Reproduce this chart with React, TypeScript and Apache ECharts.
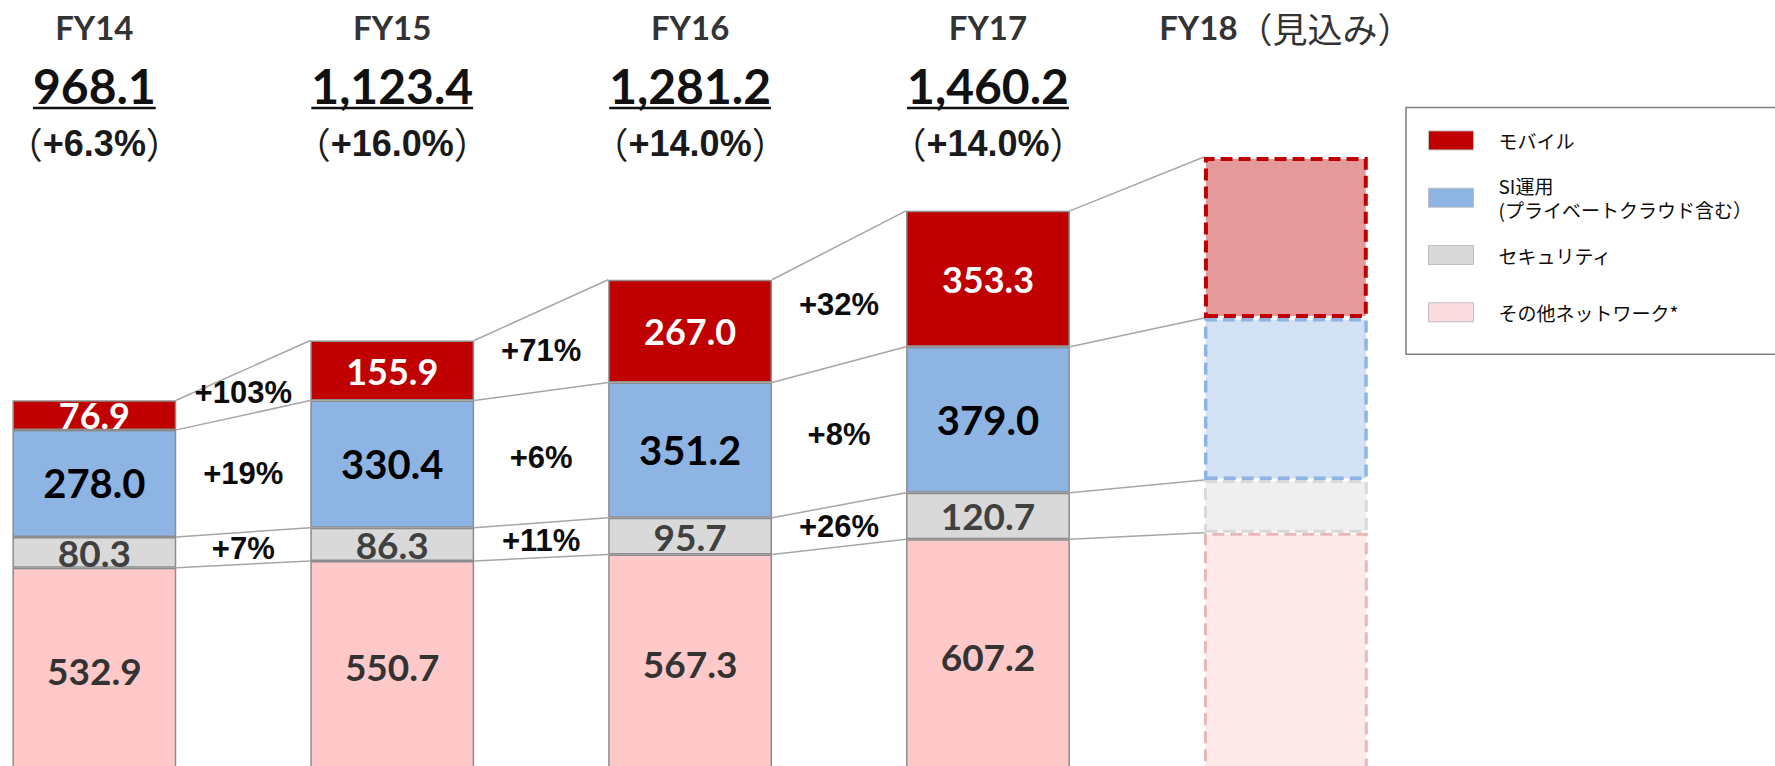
import React, { useEffect, useRef } from "react";
import * as echarts from "echarts";

// ---------------- data ----------------
const categories = ["FY14", "FY15", "FY16", "FY17", "FY18"];
const forecastCategory = "FY18";
const forecastSuffix = "（見込み）";
const totals = [968.1, 1123.4, 1281.2, 1460.2];
const totalGrowthPct = [6.3, 16.0, 14.0, 14.0];

const otherNetwork = [532.9, 550.7, 567.3, 607.2, 624];
const securityValues = [80.3, 86.3, 95.7, 120.7, 137];
const siOperations = [278.0, 330.4, 351.2, 379.0, 421];
const mobileValues = [76.9, 155.9, 267.0, 353.3, 418];

const nameOther = "その他ネットワーク*";
const nameSecurity = "セキュリティ";
const nameSI = "SI運用\n(プライベートクラウド含む）";
const nameMobile = "モバイル";

// ---------------- layout / style ----------------
const SHIFT = 60; // chart canvas starts this far left of the page
const BAR_RATIO = 0.55;
const HEADER_FY_Y = 27;
const HEADER_TOTAL_Y = 85;
const UNDERLINE_Y = 108;
const HEADER_PCT_Y = 143;
const LATO = "Lato, 'Noto Sans', sans-serif";
const ARIAL = "'Liberation Sans', Arial, sans-serif";
const CJK = "'Noto Sans CJK JP', sans-serif";

const stack = [otherNetwork, securityValues, siOperations, mobileValues];
const forecastIndex = categories.indexOf(forecastCategory);

function cumTops(i: number): number[] {
  let s = 0;
  return stack.map((arr) => (s += arr[i]));
}

let measureCtx: CanvasRenderingContext2D | null = null;
function measureText(text: string, font: string): number {
  if (!measureCtx) measureCtx = document.createElement("canvas").getContext("2d");
  if (!measureCtx) return text.length * 25;
  measureCtx.font = font;
  return measureCtx.measureText(text).width;
}

const seriesDefs = [
  {
    name: nameOther, values: otherNetwork, color: "#FFC9C9",
    fcColor: "#FDE9EA", fcBorder: "#E6B8B9", fcWidth: 3,
    label: { color: "#333333", fontSize: 37 },
  },
  {
    name: nameSecurity, values: securityValues, color: "#D9D9D9",
    fcColor: "#EFEFEF", fcBorder: "#D9D9D9", fcWidth: 3,
    label: { color: "#404040", fontSize: 37 },
  },
  {
    name: nameSI, values: siOperations, color: "#8EB4E3",
    fcColor: "#D2E1F4", fcBorder: "#8EB4E3", fcWidth: 3.5,
    label: { color: "#000000", fontSize: 40 },
  },
  {
    name: nameMobile, values: mobileValues, color: "#C00000",
    fcColor: "#E49A9A", fcBorder: "#C00000", fcWidth: 4,
    label: { color: "#FFFFFF", fontSize: 36 },
  },
];

export default function App() {
  const ref = useRef<HTMLDivElement>(null);

  useEffect(() => {
    if (!ref.current) return;
    const chart = echarts.init(ref.current, undefined, { renderer: "svg" });

    const barSeries = seriesDefs.map((d) => ({
      type: "bar",
      name: d.name,
      stack: "total",
      barWidth: `${BAR_RATIO * 100}%`,
      z: 2,
      itemStyle: { color: d.color, borderColor: "#8C8C8C", borderWidth: 1.5 },
      label: {
        show: true,
        position: "inside",
        fontFamily: LATO,
        fontWeight: "bold",
        fontSize: d.label.fontSize,
        color: d.label.color,
        formatter: (p: any) => Number(p.value).toFixed(1),
      },
      emphasis: { disabled: true },
      data: d.values.map((v, i) =>
        i === forecastIndex
          ? {
              value: v,
              itemStyle: {
                color: d.fcColor,
                borderColor: d.fcBorder,
                borderWidth: d.fcWidth,
                borderType: [12, 6],
              },
              label: { show: false },
            }
          : v
      ),
    }));

    const connectorSeries = {
      type: "custom",
      silent: true,
      z: 1,
      data: categories.slice(0, -1).map((_, i) => [i, 0]),
      renderItem: (params: any, api: any) => {
        const i = params.dataIndex;
        const band = api.size([1, 0])[0];
        const half = (band * BAR_RATIO) / 2;
        const a = cumTops(i);
        const b = cumTops(i + 1);
        const children: any[] = [];
        for (let k = 0; k < stack.length; k++) {
          const p1 = api.coord([i, a[k]]);
          const p2 = api.coord([i + 1, b[k]]);
          children.push({
            type: "line",
            shape: { x1: p1[0] + half, y1: p1[1], x2: p2[0] - half, y2: p2[1] },
            style: { stroke: "#A6A6A6", lineWidth: 1.5 },
          });
        }
        if (i + 1 !== forecastIndex) {
          const xMid = (api.coord([i, 0])[0] + api.coord([i + 1, 0])[0]) / 2;
          for (let k = 1; k < stack.length; k++) {
            const mid1 = (a[k - 1] + a[k]) / 2;
            const mid2 = (b[k - 1] + b[k]) / 2;
            const pct = Math.round((stack[k][i + 1] / stack[k][i] - 1) * 100);
            const y = api.coord([i, (mid1 + mid2) / 2])[1];
            children.push({
              type: "text",
              x: xMid,
              y,
              style: {
                text: `+${pct}%`,
                fontFamily: ARIAL,
                fontWeight: "bold",
                fontSize: 31,
                fill: "#0D0D0D",
                align: "center",
                verticalAlign: "middle",
              },
            });
          }
        }
        return { type: "group", children };
      },
    };

    const headerSeries = {
      type: "custom",
      silent: true,
      z: 3,
      data: categories.map((_, i) => [i, 0]),
      renderItem: (params: any, api: any) => {
        const i = params.dataIndex;
        const x = api.coord([i, 0])[0];
        if (i === forecastIndex) {
          return {
            type: "text",
            x,
            y: HEADER_FY_Y,
            style: {
              text: `{fy|${categories[i]}}{jp|${forecastSuffix}}`,
              align: "center",
              verticalAlign: "middle",
              rich: {
                fy: { fontFamily: LATO, fontWeight: "bold", fontSize: 33, fill: "#333333" },
                jp: { fontFamily: CJK, fontWeight: "normal", fontSize: 35, fill: "#333333" },
              },
            },
          };
        }
        const totalText = totals[i].toLocaleString("en-US", {
          minimumFractionDigits: 1,
          maximumFractionDigits: 1,
        });
        const w = measureText(totalText, `bold 48px Lato`);
        return {
          type: "group",
          children: [
            {
              type: "text",
              x,
              y: HEADER_FY_Y,
              style: {
                text: categories[i],
                fontFamily: LATO,
                fontWeight: "bold",
                fontSize: 33,
                fill: "#333333",
                align: "center",
                verticalAlign: "middle",
              },
            },
            {
              type: "text",
              x,
              y: HEADER_TOTAL_Y,
              style: {
                text: totalText,
                fontFamily: LATO,
                fontWeight: "bold",
                fontSize: 48,
                fill: "#111111",
                align: "center",
                verticalAlign: "middle",
              },
            },
            {
              type: "line",
              shape: { x1: x - w / 2, y1: UNDERLINE_Y, x2: x + w / 2, y2: UNDERLINE_Y },
              style: { stroke: "#111111", lineWidth: 2.5 },
            },
            {
              type: "text",
              x,
              y: HEADER_PCT_Y,
              style: {
                text: `{p|（}{v|+${totalGrowthPct[i].toFixed(1)}%}{p|）}`,
                align: "center",
                verticalAlign: "middle",
                rich: {
                  p: { fontFamily: CJK, fontWeight: "normal", fontSize: 36, fill: "#1A1A1A" },
                  v: { fontFamily: ARIAL, fontWeight: "bold", fontSize: 36, fill: "#1A1A1A" },
                },
              },
            },
          ],
        };
      },
    };

    chart.setOption({
      animation: false,
      grid: { left: SHIFT - 54.6, right: 340.2, top: 3, bottom: 27, containLabel: false },
      xAxis: { type: "category", data: categories, show: false },
      yAxis: { type: "value", min: 0, max: 2000, show: false },
      legend: {
        orient: "vertical",
        left: SHIFT + 1406,
        top: 107.5,
        padding: [20.9, 120, 17.9, 22],
        itemGap: 21.3,
        itemWidth: 45,
        itemHeight: 19,
        icon: "rect",
        selectedMode: false,
        borderColor: "#7F7F7F",
        borderWidth: 1.5,
        backgroundColor: "#FFFFFF",
        itemStyle: { borderColor: "#BFBFBF", borderWidth: 1 },
        textStyle: {
          fontFamily: CJK,
          fontSize: 19,
          color: "#0D0D0D",
          lineHeight: 24,
          padding: [0, 0, 0, 20],
        },
        data: [
          { name: nameMobile },
          { name: nameSI },
          { name: nameSecurity },
          { name: nameOther, textStyle: { lineHeight: 48 }, itemStyle: { color: "#FBDDE0" } },
        ],
      },
      series: [connectorSeries, ...barSeries, headerSeries],
    });

    return () => chart.dispose();
  }, []);

  return (
    <div
      style={{
        position: "absolute",
        left: 0,
        top: 0,
        width: 1775,
        height: 766,
        overflow: "hidden",
        background: "#FFFFFF",
      }}
    >
      <div
        ref={ref}
        style={{ position: "absolute", left: -SHIFT, top: 0, width: 1775 + SHIFT, height: 800 }}
      />
    </div>
  );
}
